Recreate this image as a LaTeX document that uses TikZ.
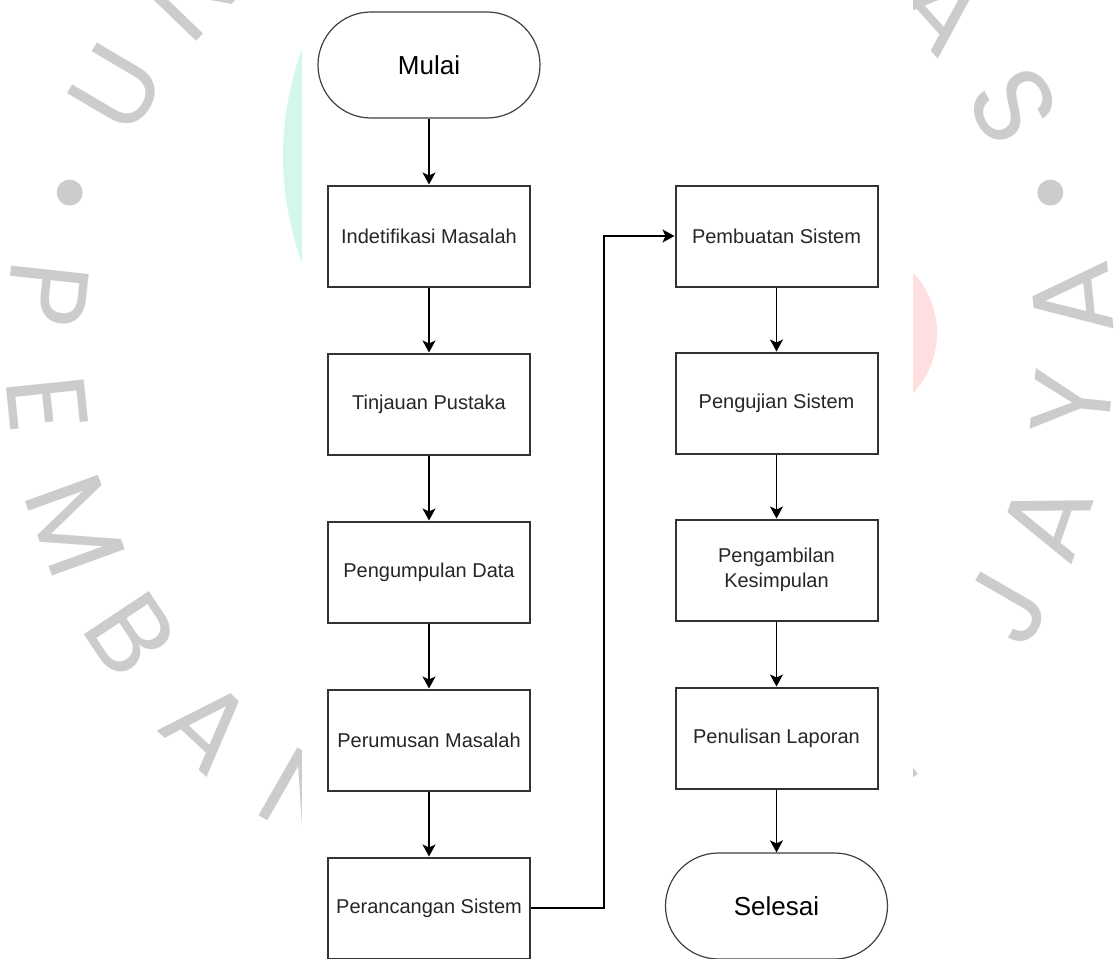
\documentclass[tikz,border=0pt]{standalone}
\usepackage{fontspec}
\setmainfont{Liberation Sans}
\newfontfamily\wmfont{Poppins}
\usetikzlibrary{positioning,arrows.meta}
\definecolor{garis}{HTML}{333333}
\definecolor{mint}{HTML}{D3F7EA}
\definecolor{merahmuda}{HTML}{FFDFDF}
\definecolor{watermark}{HTML}{CCCCCC}

\begin{document}
\begin{tikzpicture}[x=0.5pt,y=-0.5pt,node distance=84pt,on grid,
    proses/.style={draw=garis,line width=1pt,minimum width=101pt,minimum height=50.5pt,
      align=center,font=\fontsize{10}{12.5}\selectfont,text=black!85},
    terminal/.style={draw=black!75,line width=0.6pt,rounded corners=26.5pt,
      minimum width=111pt,minimum height=53pt,font=\fontsize{13}{15}\selectfont},
    panah/.style={-{Stealth[length=6pt,width=6.5pt,inset=1.5pt]},line width=0.8pt},
    huruf/.style={text=watermark,font=\wmfont\fontsize{56}{56}\selectfont,inner sep=0pt}]
  \useasboundingbox (0,0) rectangle (1118,958);
  \clip (0,0) rectangle (1118,958);

  % watermark di belakang
  \fill[mint] (591,156) circle[radius=154pt];
  \fill[merahmuda] (849,333) circle[radius=44pt];
  \coordinate (pusat) at (560,350);
  \foreach \sudut/\h in {136/N,149.5/U,41.7/A,28.3/S}
    \path (pusat) ++(\sudut:257.5pt) node[huruf,rotate=\sudut-90] {\h};
  \foreach \sudut/\h in {173.8/P,186/E,199.9/M,213.6/B,226.9/A,240.3/N,
      307/N,330/J,340.7/A,354.1/Y,5.7/A}
    \path (pusat) ++(\sudut:257.5pt) node[huruf,rotate=\sudut+90] {\h};
  \foreach \sudut in {162.2,17.8}
    \fill[watermark] (pusat) ++(\sudut:257.5pt) circle[radius=6.5pt];
  \fill[white] (302,0) rectangle (913,958);

  % flowchart
  \node[terminal] (mulai) at (429,65) {Mulai};
  \node[proses] (identifikasi) [below = 85.5pt of mulai] {Indetifikasi Masalah};
  \node[proses] (tinjauan) [below = of identifikasi] {Tinjauan Pustaka};
  \node[proses] (pengumpulan) [below = of tinjauan] {Pengumpulan Data};
  \node[proses] (perumusan) [below = of pengumpulan] {Perumusan Masalah};
  \node[proses] (perancangan) [below = of perumusan] {Perancangan Sistem};
  \node[proses] (pembuatan) [right = 173.75pt of identifikasi] {Pembuatan Sistem};
  \node[proses] (pengujian) [below = 83.5pt of pembuatan] {Pengujian Sistem};
  \node[proses] (pengambilan) [below = 83.5pt of pengujian] {Pengambilan\\Kesimpulan};
  \node[proses] (penulisan) [below = 84pt of pengambilan] {Penulisan Laporan};
  \node[terminal] (selesai) [below = 84pt of penulisan] {Selesai};

  \path[panah]
    (mulai) edge (identifikasi)
    (identifikasi) edge (tinjauan)
    (tinjauan) edge (pengumpulan)
    (pengumpulan) edge (perumusan)
    (perumusan) edge (perancangan)
    (pembuatan) edge (pengujian)
    (pengujian) edge (pengambilan)
    (pengambilan) edge (penulisan)
    (penulisan) edge (selesai)
    ;
  \draw[panah] (perancangan.east) -- ++(73,0) |- (pembuatan.west);
\end{tikzpicture}
\end{document}
